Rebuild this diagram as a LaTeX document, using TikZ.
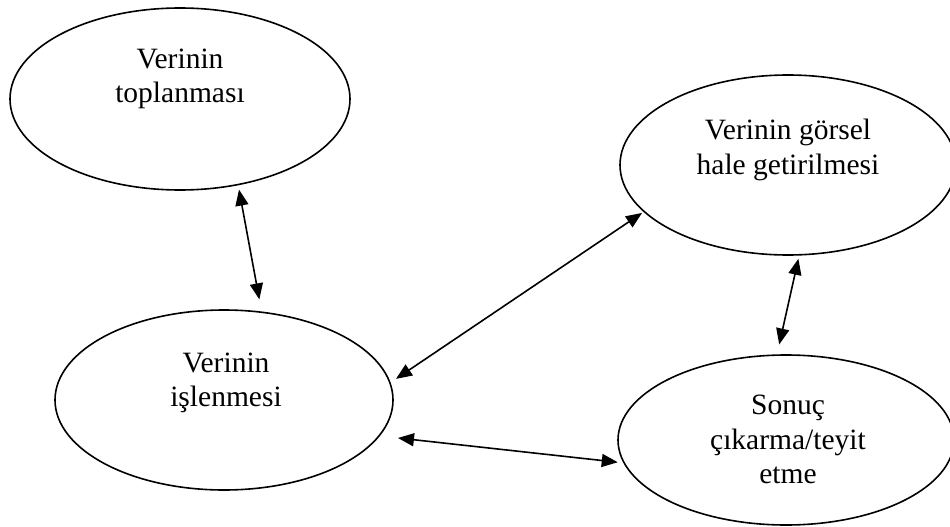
\documentclass[tikz,border=0pt]{standalone}
\usepackage{fontspec}
\setmainfont{Liberation Serif}
\usetikzlibrary{arrows.meta,shapes.geometric}
\begin{document}
\begin{tikzpicture}[x=1pt,y=-1pt]
\tikzstyle{oval}=[draw,shape=ellipse,line width=1.6pt,inner sep=0pt]
\tikzstyle{caption}=[anchor=north,align=center,inner sep=0pt,font=\fontsize{29.5}{34.5}\selectfont]
\tikzstyle{link}=[line width=1.6pt,{Triangle[length=16pt,width=13pt]}-{Triangle[length=16pt,width=13pt]}]
\useasboundingbox (0,0) rectangle (950,527);
\path (180,99) node[oval,minimum width=340pt,minimum height=182pt](e1){};
\path (224,400) node[oval,minimum width=338pt,minimum height=180pt](e2){};
\path (788,165) node[oval,minimum width=336pt,minimum height=180pt](e3){};
\path (786,440) node[oval,minimum width=336pt,minimum height=170pt](e4){};
\path (180,48.5) node[caption](t1){Verinin\\toplanması};
\path (226,352.5) node[caption](t2){Verinin\\işlenmesi};
\path (788,119) node[caption](t3){Verinin görsel\\hale getirilmesi};
\path (788,395) node[caption](t4){Sonuç\\çıkarma/teyit\\etme};

\draw[link, shorten <=4.4pt, shorten >=12.3pt] (e1.-56.3) -- (e2.67.6);
\draw[link, shorten <=6.5pt, shorten >=1.8pt] (e2.6.3) -- (e3.-162.3);
\draw[link, shorten <=18.2pt, shorten >=5.6pt] (e2.-13.1) -- (e4.-172.4);
\draw[link, shorten <=3.3pt, shorten >=10.1pt] (e3.-83.2) -- (e4.96.9);
\end{tikzpicture}
\end{document}
